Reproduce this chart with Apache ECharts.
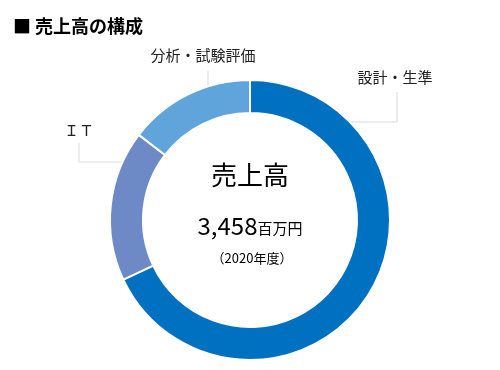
<!DOCTYPE html>
<html><head><meta charset="utf-8">
<script src="https://cdn.jsdelivr.net/npm/echarts@6/dist/echarts.min.js"></script>
<style>html,body{margin:0;padding:0;background:#fff}#c{width:500px;height:370px}</style>
</head><body><div id="c"></div>
<script>
const categories = ['設計・生準', 'ＩＴ', '分析・試験評価'];
const values = [68.0, 17.4, 14.6];
const colors = ['#0070C0', '#6E8AC6', '#5FA5DB'];
const centerTitle = '売上高';
const totalValue = '3,458';
const totalUnit = '百万円';
const yearNote = '（2020年度）';

const FONT = '"Noto Sans CJK JP", sans-serif';
// label anchor positions (layout only)
const labelPos = [
  {x: 395, y: 77, line: [[339, 122], [397, 122], [397, 92]]},
  {x: 79, y: 130, line: [[139, 162], [79, 162], [79, 143]]},
  {x: 203, y: 55, line: [[208, 99], [208, 71]]}
];

const chart = echarts.init(document.getElementById('c'), null, {renderer: 'canvas'});
chart.setOption({
  animation: false,
  title: {
    text: '■ 売上高の構成', left: 8, top: 12,
    textStyle: {fontFamily: FONT, fontSize: 18, fontWeight: 'bold', color: '#000'}
  },
  graphic: [
    {type: 'text', left: 'center', top: 162, style: {text: centerTitle, font: '26px ' + FONT, fill: '#000'}},
    {type: 'text', x: 250, y: 226, style: {
      text: '{a|' + totalValue + '}{b|' + totalUnit + '}', align: 'center', verticalAlign: 'middle',
      rich: {a: {fontFamily: FONT, fontSize: 24, color: '#000'}, b: {fontFamily: FONT, fontSize: 15, color: '#000', padding: [5, 0, 0, 0]}}
    }},
    {type: 'text', x: 252, y: 258, style: {text: yearNote, font: '13px ' + FONT, fill: '#000', align: 'center', verticalAlign: 'middle'}}
  ],
  series: [{
    type: 'pie',
    center: [250, 220],
    radius: [107, 140],
    startAngle: 90,
    clockwise: true,
    itemStyle: {borderColor: '#fff', borderWidth: 2},
    label: {show: true, formatter: '{b}', fontFamily: FONT, fontSize: 15, color: '#222', overflow: 'none', width: 200},
    labelLine: {show: true, lineStyle: {color: '#d9d9d9', width: 1}},
    labelLayout: function (p) {
      const lp = labelPos[p.dataIndex];
      return {x: lp.x, y: lp.y, align: 'center', verticalAlign: 'middle', labelLinePoints: lp.line};
    },
    emphasis: {disabled: true},
    data: categories.map((c, i) => ({name: c, value: values[i], itemStyle: {color: colors[i]}}))
  }]
});
</script></body></html>
